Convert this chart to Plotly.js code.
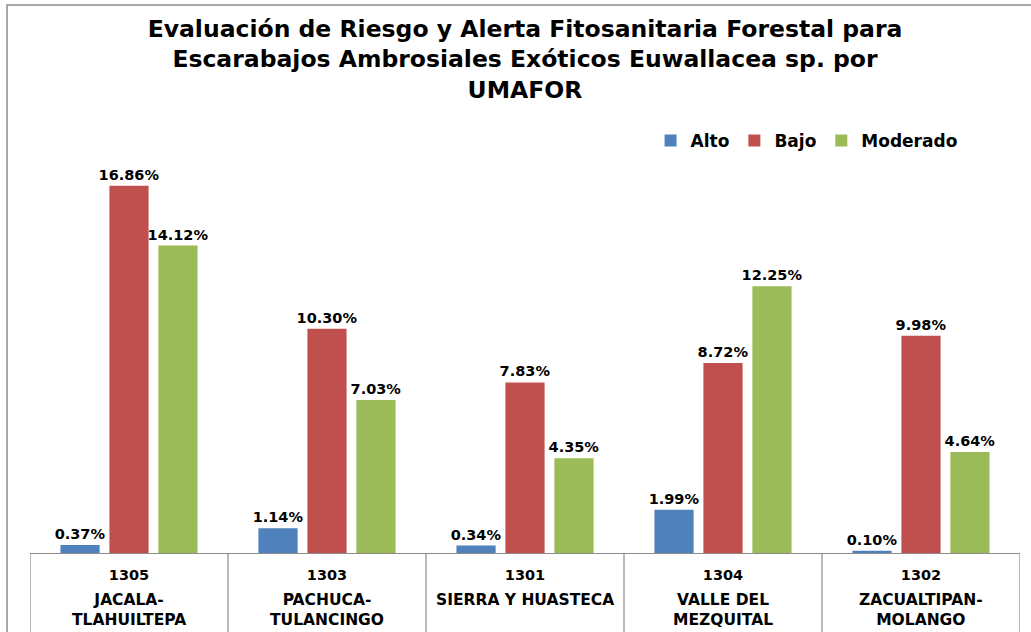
<!DOCTYPE html>
<html><head><meta charset="utf-8">
<script src="https://cdn.plot.ly/plotly-3.0.1.min.js"></script>
<style>html,body{margin:0;padding:0;background:#fff}#chart{width:1031px;height:632px}</style>
</head><body><div id="chart"></div>
<script>
var codes = ["1305", "1303", "1301", "1304", "1302"];
var names = ["JACALA-<br>TLAHUILTEPA", "PACHUCA-<br>TULANCINGO", "SIERRA Y HUASTECA", "VALLE DEL<br>MEZQUITAL", "ZACUALTIPAN-<br>MOLANGO"];
var alto = [0.37, 1.14, 0.34, 1.99, 0.10];
var bajo = [16.86, 10.30, 7.83, 8.72, 9.98];
var moderado = [14.12, 7.03, 4.35, 12.25, 4.64];
var seriesNames = ["Alto", "Bajo", "Moderado"];
var colors = ["#4F81BD", "#C0504D", "#9BBB59"];
var FONT = "DejaVu Sans, Arial, sans-serif";

var series = [alto, bajo, moderado];
var traces = series.map(function (vals, i) {
  return {
    type: "bar", name: seriesNames[i], x: codes, y: vals,
    marker: {color: colors[i]},
    texttemplate: "%{y:.2f}%", textposition: "outside", cliponaxis: false, constraintext: "none",
    textfont: {family: FONT, size: 14.5, color: "#000", weight: "bold"},
    hoverinfo: "skip"
  };
});

var shapes = [];
// outer chart frame
shapes.push({type: "rect", xref: "paper", yref: "paper", x0: -0.0232, x1: 1.02, y0: -0.25, y1: 1.398,
  line: {color: "#8c8c8c", width: 1.5}, fillcolor: "rgba(0,0,0,0)", layer: "below"});
// category table dividers
for (var k = 0; k <= codes.length; k++) {
  shapes.push({type: "line", xref: "x", yref: "paper", x0: k - 0.5, x1: k - 0.5, y0: 0, y1: -0.25,
    line: {color: "#8c8c8c", width: 1.2}});
}

var annotations = names.map(function (n, i) {
  return {xref: "x", yref: "paper", x: i, y: -0.091, yanchor: "top", xanchor: "center",
    text: n, showarrow: false, font: {family: FONT, size: 15.5, color: "#000", weight: "bold"}};
});

var layout = {
  width: 1031, height: 632,
  margin: {l: 30, r: 11, t: 161, b: 79},
  paper_bgcolor: "#fff", plot_bgcolor: "#fff",
  font: {family: FONT},
  title: {text: "Evaluación de Riesgo y Alerta Fitosanitaria Forestal para<br>Escarabajos Ambrosiales Exóticos Euwallacea sp. por<br>UMAFOR",
    font: {family: FONT, size: 23.5, color: "#000", weight: "bold"},
    x: 0.5, xref: "paper", xanchor: "center", y: 0.942, yref: "container", yanchor: "top"},
  barmode: "group", bargap: 0.258, bargroupgap: 0.2,
  xaxis: {type: "category", range: [-0.5, 4.5], autorange: false, showline: true, linecolor: "#8c8c8c", linewidth: 1.2,
    ticks: "", showgrid: false, zeroline: false, ticklabelstandoff: 8,
    tickfont: {family: FONT, size: 14.5, color: "#000", weight: "bold"}, fixedrange: true},
  yaxis: {range: [0, 18], autorange: false, showticklabels: false, showgrid: false, zeroline: false, showline: false, fixedrange: true},
  showlegend: true,
  legend: {orientation: "h", x: 0.942, xanchor: "right", y: 1.051, yanchor: "middle",
    font: {family: FONT, size: 17, color: "#000", weight: "bold"}, bgcolor: "rgba(0,0,0,0)"},
  shapes: shapes, annotations: annotations
};

Plotly.newPlot("chart", traces, layout, {displayModeBar: false, staticPlot: true});
</script></body></html>
